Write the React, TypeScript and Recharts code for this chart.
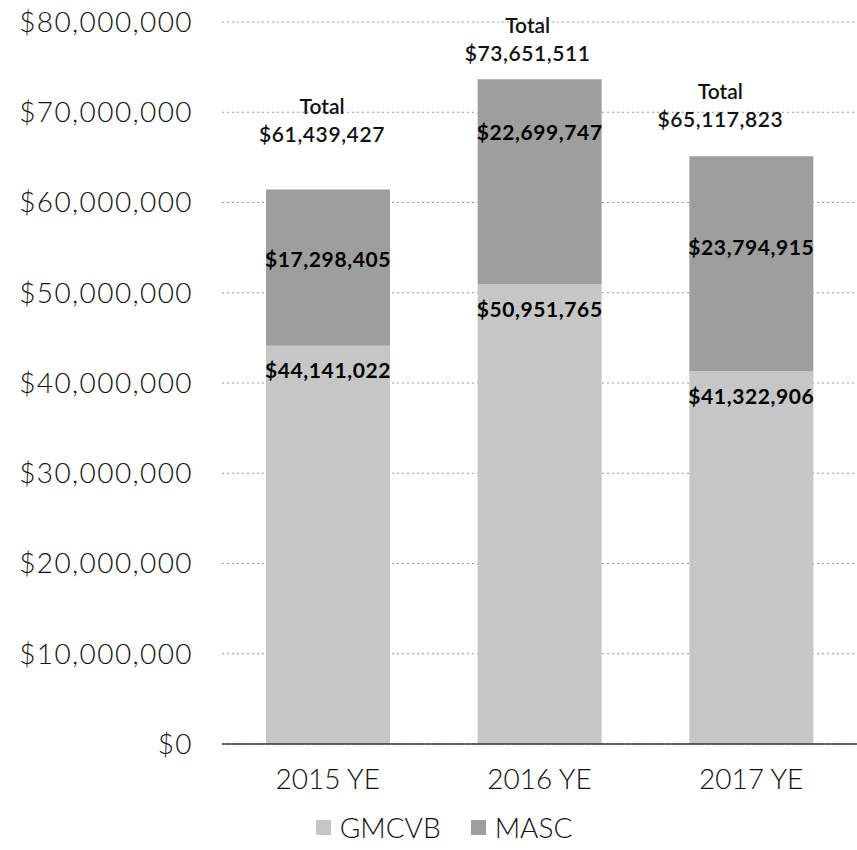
import { BarChart, Bar, XAxis, YAxis, CartesianGrid, Legend, LabelList } from "recharts"

const years = ["2015 YE", "2016 YE", "2017 YE"]
const gmcvb = [44141022, 50951765, 41322906]
const masc = [17298405, 22699747, 23794915]
const totals = [61439427, 73651511, 65117823]
const yTicks = [0, 10000000, 20000000, 30000000, 40000000, 50000000, 60000000, 70000000, 80000000]

// label nudges (the source places these by hand)
const totalNudge = [
  { dx: -6, dy: 56 },
  { dx: -12, dy: 27 },
  { dx: -31, dy: 38 },
]
const mascNudge = [-9, -50, -17]

const data = years.map((year, i) => ({
  year,
  GMCVB: gmcvb[i],
  MASC: masc[i],
  total: totals[i],
}))

const FONT = "Lato, 'Open Sans', sans-serif"
const GMCVB_FILL = "#c6c6c6"
const MASC_FILL = "#9e9e9e"

const money = (v: number) => "$" + Number(v).toLocaleString("en-US")

const SegmentLabel = (props: any) => {
  const { x, y, width, height, value, index, nudge } = props
  const cx = x + width / 2
  const cy = nudge == null ? y + 24 : y + height / 2 + nudge[index]
  return (
    <text
      x={cx}
      y={cy}
      textAnchor="middle"
      dominantBaseline="central"
      fontFamily={FONT}
      fontSize={21}
      fontWeight={700}
      letterSpacing={0.6}
      fill="#000"
    >
      {money(value)}
    </text>
  )
}

const TotalLabel = (props: any) => {
  const { x, y, width, value, index } = props
  const n = totalNudge[index]
  const cx = x + width / 2 + n.dx
  const cy = y - n.dy
  return (
    <g fontFamily={FONT} fill="#111" textAnchor="middle">
      <text x={cx} y={cy - 28} dominantBaseline="central" fontSize={21} fontWeight={600}>
        Total
      </text>
      <text x={cx} y={cy} dominantBaseline="central" fontSize={21} fontWeight={600} letterSpacing={0.6}>
        {money(value)}
      </text>
    </g>
  )
}

const LegendContent = () => (
  <div
    style={{
      height: 46,
      display: "flex",
      alignItems: "center",
      justifyContent: "center",
      paddingLeft: 31,
      fontFamily: FONT,
      fontSize: 28,
      fontWeight: 300,
      color: "#111",
    }}
  >
    {[
      { name: "GMCVB", fill: GMCVB_FILL },
      { name: "MASC", fill: MASC_FILL },
    ].map((item) => (
      <span key={item.name} style={{ display: "flex", alignItems: "center", margin: "0 15px" }}>
        <span style={{ width: 15, height: 15, background: item.fill, marginRight: 9 }} />
        {item.name}
      </span>
    ))}
  </div>
)

export default function App() {
  return (
    <div style={{ position: "absolute", left: 0, top: 0, background: "#fff" }}>
      <BarChart
        width={857}
        height={850}
        data={data}
        margin={{ top: 22, right: 0, left: 0, bottom: 0 }}
        barCategoryGap={0}
      >
        <CartesianGrid vertical={false} stroke="#999" strokeDasharray="2 3" />
        <XAxis
          dataKey="year"
          height={60}
          tickLine={false}
          tickMargin={19}
          axisLine={{ stroke: "#333", strokeWidth: 1.5 }}
          tick={{ fontSize: 28, fill: "#111", fontFamily: FONT, fontWeight: 300 }}
        />
        <YAxis
          width={222}
          domain={[0, 80000000]}
          ticks={yTicks}
          interval={0}
          tickFormatter={money}
          axisLine={false}
          tickLine={false}
          tickMargin={23}
          tick={{ fontSize: 28, fill: "#111", fontFamily: FONT, fontWeight: 300, letterSpacing: 1.4 }}
        />
        <Legend verticalAlign="bottom" content={<LegendContent />} />
        <Bar dataKey="GMCVB" stackId="a" fill={GMCVB_FILL} barSize={124} isAnimationActive={false}>
          <LabelList dataKey="GMCVB" content={<SegmentLabel />} />
        </Bar>
        <Bar dataKey="MASC" stackId="a" fill={MASC_FILL} barSize={124} isAnimationActive={false}>
          <LabelList dataKey="MASC" content={<SegmentLabel nudge={mascNudge} />} />
          <LabelList dataKey="total" content={<TotalLabel />} />
        </Bar>
      </BarChart>
    </div>
  )
}
